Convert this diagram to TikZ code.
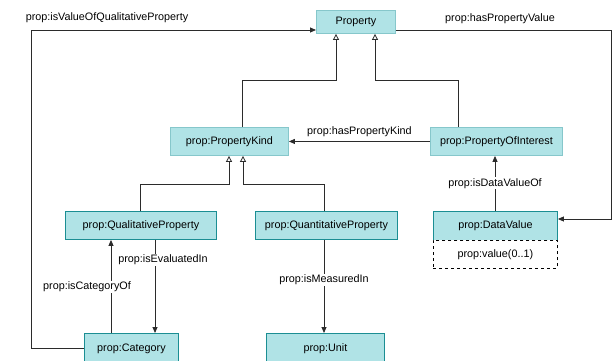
\documentclass[tikz,border=0pt]{standalone}
\usepackage{fontspec}
\setmainfont{Liberation Sans}
\usetikzlibrary{arrows.meta}
\definecolor{boxfill}{HTML}{B0E3E6}
\definecolor{edgedark}{HTML}{1B8E93}
\definecolor{edgelight}{HTML}{86C7CB}
\definecolor{linegrey}{HTML}{2B2B2B}
\begin{document}
\begin{tikzpicture}[x=1pt,y=-1pt,
  font=\fontsize{10.8}{12}\selectfont,
  cls/.style={draw=edgedark,fill=boxfill,line width=0.9pt,inner sep=0pt,anchor=north west},
  clslight/.style={cls,draw=edgelight},
  attr/.style={draw=black,dashed,fill=white,line width=0.7pt,inner sep=0pt,anchor=north west},
  rel/.style={draw=linegrey,line width=0.8pt,-{Triangle[length=6pt,width=5pt]}},
  gen/.style={draw=linegrey,line width=0.8pt,-{Triangle[open,length=6pt,width=6pt,fill=white]}},
  lbl/.style={fill=white,inner sep=1pt}]
\useasboundingbox (0,0) rectangle (613,361);
\fill[white] (0,0) rectangle (613,361);

% classes
\node[clslight,minimum width=79pt,minimum height=23pt] (prop) at (316,10) {Property};
\node[clslight,minimum width=118pt,minimum height=28pt] (kind) at (170,127) {prop:PropertyKind};
\node[clslight,minimum width=132pt,minimum height=28pt] (poi) at (430,127) {prop:PropertyOfInterest};
\node[cls,minimum width=151pt,minimum height=28pt] (qual) at (65,211) {prop:QualitativeProperty};
\node[cls,minimum width=142pt,minimum height=28pt] (quant) at (255,211) {prop:QuantitativeProperty};
\node[cls,minimum width=124pt,minimum height=29pt] (dv) at (433,211) {prop:DataValue};
\node[attr,minimum width=124pt,minimum height=28pt] (dvattr) at (433,240) {prop:value(0..1)};
\node[cls,minimum width=94pt,minimum height=30pt] (cat) at (84,333) {prop:Category};
\node[cls,minimum width=118pt,minimum height=30pt] (unit) at (266,333) {prop:Unit};

% bend points
\coordinate (kindup) at (242,80);
\coordinate (poiup) at (458,80);
\coordinate (qualup) at (140,184);
\coordinate (quantup) at (324,184);
\coordinate (rightcorner) at (611,30);
\coordinate (leftcorner) at (31,30);

% generalisations
\draw[gen] (kind.north -| kindup) |- (kindup) -| (prop.south -| 336,0);
\draw[gen] (poi.north -| poiup) |- (poiup) -| (prop.south -| 375,0);
\draw[gen] (qual.north -| qualup) |- (qualup) -| (kind.south -| 229,0);
\draw[gen] (quant.north -| quantup) |- (quantup) -| (kind.south -| 243,0);

% object properties
\draw[rel] (poi.west) -- node[above=1pt] {prop:hasPropertyKind} (kind.east);
\draw[rel] (dv.north -| 495,0) -- node[lbl,pos=0.5] {prop:isDataValueOf} (poi.south -| 495,0);
\draw[rel] (prop.east |- rightcorner) -- (rightcorner) |- (dv.east |- 0,219);
\node at (500,19) {prop:hasPropertyValue};
\draw[rel] (cat.west |- 0,348) -| (leftcorner) -- (prop.west |- leftcorner);
\node at (107,18) {prop:isValueOfQualitativeProperty};
\draw[rel] (cat.north -| 111,0) -- (qual.south -| 111,0);
\node[lbl] at (87,287) {prop:isCategoryOf};
\draw[rel] (qual.south -| 155,0) -- (cat.north -| 155,0);
\node[lbl] at (163,260) {prop:isEvaluatedIn};
\draw[rel] (quant.south -| 324,0) -- node[lbl,pos=0.43] {prop:isMeasuredIn} (unit.north -| 324,0);
\end{tikzpicture}
\end{document}
